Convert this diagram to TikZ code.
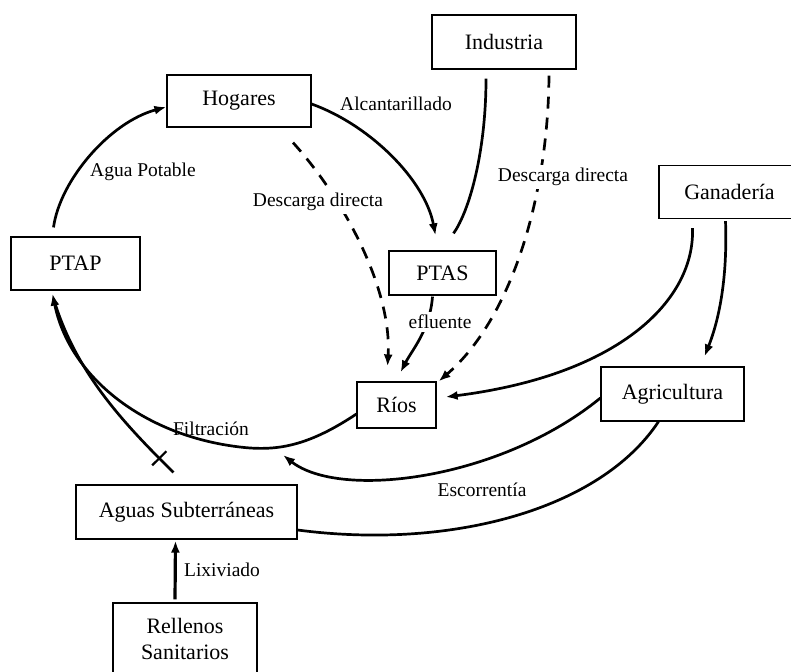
\documentclass[tikz,border=0pt]{standalone}
\usepackage{fontspec}
\setmainfont{Liberation Serif}
\usetikzlibrary{arrows.meta}
\begin{document}
\begin{tikzpicture}[x=1pt,y=-1pt,
 box/.style={draw, line width=1.2pt, inner sep=0pt, font=\fontsize{22}{27}\selectfont, align=center},
 lab/.style={font=\fontsize{19.5}{23}\selectfont, inner sep=1pt},
 labw/.style={lab, fill=white, inner sep=3pt},
 flow/.style={line width=2.7pt, -{Latex[length=12pt,width=9pt]}},
 plainflow/.style={line width=2.7pt},
 dflow/.style={flow, dash pattern=on 12pt off 9pt},
 tick/.style={draw, line width=2.2pt, inner sep=0pt, minimum width=0pt, minimum height=20pt, sloped},
]
\useasboundingbox (0,0) rectangle (791,671);

% boxes
\node[box, minimum width=144pt, minimum height=52pt] (hog) at (239,101) {Hogares};
\node[box, minimum width=144pt, minimum height=54pt] (ind) at (504,42) {Industria};
\node[box, minimum width=141pt, minimum height=53pt] (gan) at (729.5,192) {Ganadería};
\node[box, minimum width=129pt, minimum height=53pt] (ptap) at (75.5,263.5) {PTAP};
\node[box, minimum width=107pt, minimum height=44pt] (ptas) at (442.5,273) {PTAS};
\node[box, minimum width=79pt, minimum height=46pt] (rios) at (396.5,405) {Ríos};
\node[box, minimum width=143pt, minimum height=54pt] (agr) at (672.5,394) {Agricultura};
\node[box, minimum width=221pt, minimum height=54pt] (aguas) at (186.5,512) {Aguas Subterráneas};
\node[box, minimum width=144pt, minimum height=76pt] (rel) at (185,641) {\raisebox{6pt}{\begin{tabular}{@{}c@{}}Rellenos\\[-1pt]Sanitarios\end{tabular}}};

\coordinate (filt) at (283,455);
\coordinate (bend) at (250,448);

% connectors
\draw[flow] ([xshift=-22pt,yshift=9pt]ptap.north) .. controls (60,180) and (110,122) .. ([yshift=-6pt]hog.west);
\draw[flow] ([yshift=-3pt]hog.east) .. controls (370,125) and (425,180) .. ([xshift=-7pt,yshift=15pt]ptas.north);
\draw[dflow] ([xshift=54pt,yshift=-15pt]hog.south) .. controls (345,200) and (392,290) .. ([xshift=-9pt,yshift=15pt]rios.north);
\draw[plainflow] ([xshift=-18pt,yshift=-9pt]ind.south) .. controls (486,150) and (470,210) .. ([xshift=11pt,yshift=17pt]ptas.north);
\draw[dflow] ([xshift=45pt,yshift=-6pt]ind.south) .. controls (548,200) and (510,320) .. ([xshift=2pt]rios.north east);
\draw[flow] ([xshift=-10pt,yshift=-1pt]ptas.south) .. controls (430,330) and (412,350) .. ([xshift=4pt,yshift=9pt]rios.north);
\draw[flow] ([xshift=-37pt,yshift=-9pt]gan.south) .. controls (695,300) and (620,375) .. ([xshift=9pt,yshift=8pt]rios.east);
\draw[flow] ([xshift=-4pt,yshift=-2pt]gan.south) .. controls (728,290) and (715,330) .. ([xshift=32pt,yshift=10pt]agr.north);
\draw[flow] ([yshift=-4pt]agr.west) .. controls (500,480) and (340,500) .. (filt);
\draw[plainflow] ([xshift=-14pt]agr.south) .. controls (600,510) and (450,550) .. ([yshift=-18pt]aguas.east);
\draw[flow] ([yshift=-9pt]rios.west) .. controls (310,445) and (280,450) .. (bend) .. controls (150,440) and (70,380) .. ([xshift=-23pt,yshift=-3pt]ptap.south);
\draw[plainflow] ([xshift=-13pt,yshift=12pt]aguas.north) .. controls (120,420) and (75,370) .. node[tick, pos=0.09] {} ([xshift=-22pt,yshift=-8pt]ptap.south);
\draw[line width=3.2pt, -{Latex[length=12pt,width=9pt]}] ([xshift=-10pt,yshift=3pt]rel.north) -- ([xshift=-11pt,yshift=-1pt]aguas.south);

% labels
\node[lab] (lap) at (143,172) {Agua Potable};
\node[lab] (lalc) at (396,104) {Alcantarillado};
\node[labw] (ldd1) at (318,202) {Descarga directa};
\node[labw] (ldd2) at (563,177) {Descarga directa};
\node[labw] (lefl) at (440,322) {efluente};
\node[lab] (lfil) at (211,429) {Filtración};
\node[lab] (lesc) at (482,490) {Escorrentía};
\node[lab] (llix) at (222,570) {Lixiviado};
\end{tikzpicture}
\end{document}
